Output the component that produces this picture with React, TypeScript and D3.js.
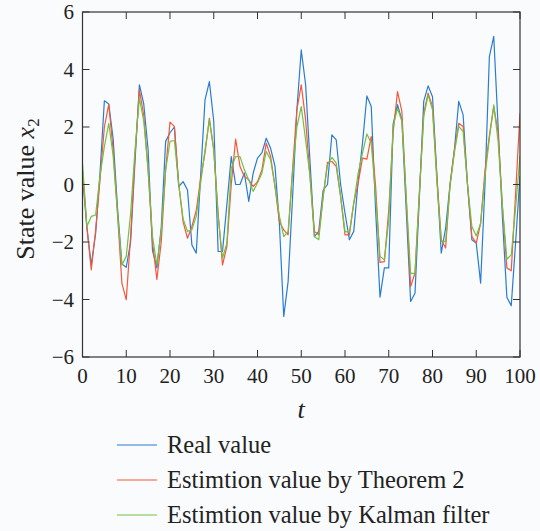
import React from "react";
import * as d3 from "d3";

const tValues: number[] = d3.range(0, 101);

const realValue: number[] = [
  0.3, -1.5, -2.8, -1.7, 0.4, 2.91, 2.8, 1.6, -0.8, -2.76,
  -2.88, -2.0, 0.8, 3.47, 2.8, 1.2, -2.3, -2.9, -1.5, 1.5,
  1.8, 2.0, -0.07, 0.1, -0.19, -2.1, -2.39, 0.3, 2.94, 3.58,
  2.2, -2.33, -2.33, -0.7, 0.97, 0.0, 0.0, 0.4, -0.59, 0.39,
  0.92, 1.1, 1.61, 1.26, 0.63, -1.35, -4.59, -3.37, -0.5, 2.6,
  4.68, 3.47, 0.8, -1.81, -1.63, -0.2, 0.0, 1.73, 1.55, 0.0,
  -1.0, -1.92, -1.63, 0.1, 1.44, 3.08, 2.71, -0.9, -3.92, -2.9,
  -2.9, 2.1, 2.78, 2.25, -0.9, -4.07, -3.78, -0.45, 2.9, 3.43,
  3.05, 0.3, -2.39, -1.52, -0.01, 1.2, 2.89, 2.42, 0.0, -1.92,
  -2.04, -3.43, 0.0, 4.45, 5.15, 2.0, -1.2, -3.92, -4.22, -2.0,
  0.3,
];

const theorem2Value: number[] = [
  0.5, -1.46, -2.97, -1.6, 0.16, 2.0, 2.79, 1.2, -1.0, -3.43,
  -4.01, -1.8, 1.0, 3.29, 2.4, 0.5, -2.0, -3.3, -2.0, 0.5,
  2.17, 2.02, 0.0, -1.3, -1.87, -1.46, -0.9, 0.2, 1.1, 2.3,
  1.2, -1.0, -2.8, -2.15, 0.0, 1.58, 0.63, 0.28, 0.16, -0.07,
  0.1, 0.51, 1.44, 0.97, -0.07, -1.29, -1.58, -1.75, 0.5, 2.6,
  3.47, 2.25, 0.28, -1.63, -1.75, -0.42, 0.77, 0.8, 0.63, -0.42,
  -1.75, -1.75, -0.65, 0.05, 0.92, 0.88, 1.67, -0.07, -2.71, -2.68,
  -0.9, 1.8, 3.23, 2.54, -0.5, -3.55, -3.08, -0.3, 2.48, 3.18,
  2.71, 0.3, -1.92, -2.21, 0.0, 1.2, 2.13, 2.02, 0.0, -1.81,
  -2.04, -1.35, 0.5, 1.7, 2.71, 1.8, -0.8, -2.9, -3.0, -0.3,
  2.48,
];

const kalmanValue: number[] = [
  0.74, -1.46, -1.11, -1.06, 0.3, 1.32, 2.13, 1.0, -1.0, -2.8,
  -2.5, -1.0, 1.2, 3.0, 2.2, 0.5, -1.8, -2.8, -1.6, 0.5,
  1.5, 1.53, 0.0, -1.2, -1.63, -1.58, -1.1, 0.05, 1.2, 2.25,
  1.2, -1.1, -2.56, -2.04, 0.57, 0.97, 0.97, 0.51, 0.16, -0.24,
  0.05, 0.39, 1.15, 0.86, -0.07, -1.1, -1.81, -1.63, 0.4, 2.0,
  2.71, 1.55, 0.28, -1.81, -1.92, -0.42, 0.68, 0.94, 0.74, -0.42,
  -1.63, -1.67, -0.65, 0.39, 1.09, 1.76, 1.44, -0.42, -2.5, -2.62,
  -1.23, 2.02, 2.65, 2.2, -0.45, -3.09, -3.09, -0.3, 2.37, 3.12,
  2.6, 0.1, -1.98, -1.98, -0.07, 1.1, 2.02, 1.84, 0.0, -1.46,
  -1.79, -1.35, 0.3, 1.6, 2.77, 1.5, -0.8, -2.6, -2.45, -0.8,
  1.0,
];

const xTicks: number[] = [0, 10, 20, 30, 40, 50, 60, 70, 80, 90, 100];
const yTicks: number[] = [-6, -4, -2, 0, 2, 4, 6];

const seriesNames: string[] = [
  "Real value",
  "Estimtion value by Theorem 2",
  "Estimtion value by Kalman filter",
];
const seriesColors: string[] = ["#2b7bd0", "#f4573a", "#74c043"];

const W = 540;
const H = 531;
const margin = { left: 82.5, right: 20, top: 12, bottom: 174 };
const FONT = "Liberation Serif, Times New Roman, Times, Tinos, DejaVu Serif, serif";

export default function App() {
  const x = d3.scaleLinear().domain([0, 100]).range([margin.left, W - margin.right]);
  const y = d3.scaleLinear().domain([-6, 6]).range([H - margin.bottom, margin.top]);
  const line = d3
    .line<number>()
    .x((_, i) => x(tValues[i]))
    .y((d) => y(d));

  const series = [realValue, theorem2Value, kalmanValue];
  const tickLen = 7;
  const axisColor = "#333";
  const x0 = x(0), x1 = x(100), y0 = y(-6), y1 = y(6);
  const ts = { fontFamily: FONT } as React.CSSProperties;

  return (
    <svg
      width={W}
      height={H}
      style={{ position: "absolute", left: 0, top: 0, display: "block", fontFamily: FONT }}
    >
      <rect x={0} y={0} width={W} height={H} fill="#fafbfd" />
      <defs>
        <clipPath id="plotClip">
          <rect x={x0} y={y1} width={x1 - x0} height={y0 - y1} />
        </clipPath>
      </defs>
      <g clipPath="url(#plotClip)" fill="none" strokeWidth={1.2} strokeLinejoin="round">
        {series.map((s, k) => (
          <path key={k} d={line(s) || ""} stroke={seriesColors[k]} />
        ))}
      </g>
      <rect x={x0} y={y1} width={x1 - x0} height={y0 - y1} fill="none" stroke={axisColor} strokeWidth={1.2} />
      {xTicks.map((t) => (
        <g key={"xt" + t}>
          <line x1={x(t)} x2={x(t)} y1={y0} y2={y0 - tickLen} stroke={axisColor} strokeWidth={1} />
          <line x1={x(t)} x2={x(t)} y1={y1} y2={y1 + tickLen} stroke={axisColor} strokeWidth={1} />
          <text x={x(t)} y={383} textAnchor="middle" fontSize={21} fill="#222" style={ts}>
            {t}
          </text>
        </g>
      ))}
      {yTicks.map((v) => (
        <g key={"yt" + v}>
          <line x1={x0} x2={x0 + tickLen} y1={y(v)} y2={y(v)} stroke={axisColor} strokeWidth={1} />
          <line x1={x1} x2={x1 - tickLen} y1={y(v)} y2={y(v)} stroke={axisColor} strokeWidth={1} />
          <text x={74} y={y(v)} dy="0.35em" textAnchor="end" fontSize={21} fill="#222" style={ts}>
            {v < 0 ? "\u2212" + Math.abs(v) : String(v)}
          </text>
        </g>
      ))}
      <text
        transform={`translate(34, 189) rotate(-90)`}
        textAnchor="middle"
        fontSize={26}
        fill="#222"
        style={ts}
      >
        State value <tspan fontStyle="italic">x</tspan>
        <tspan fontSize={17} dy={5}>2</tspan>
      </text>
      <text x={301} y={418} textAnchor="middle" fontSize={26} fontStyle="italic" fill="#222" style={ts}>
        t
      </text>
      {seriesNames.map((name, k) => {
        const cy = 445 + k * 35;
        return (
          <g key={name}>
            <line x1={117} x2={157} y1={cy} y2={cy} stroke={seriesColors[k]} strokeWidth={1.2} />
            <text x={167} y={cy} dy="0.33em" fontSize={24.5} fill="#222" style={ts}>
              {name}
            </text>
          </g>
        );
      })}
    </svg>
  );
}
